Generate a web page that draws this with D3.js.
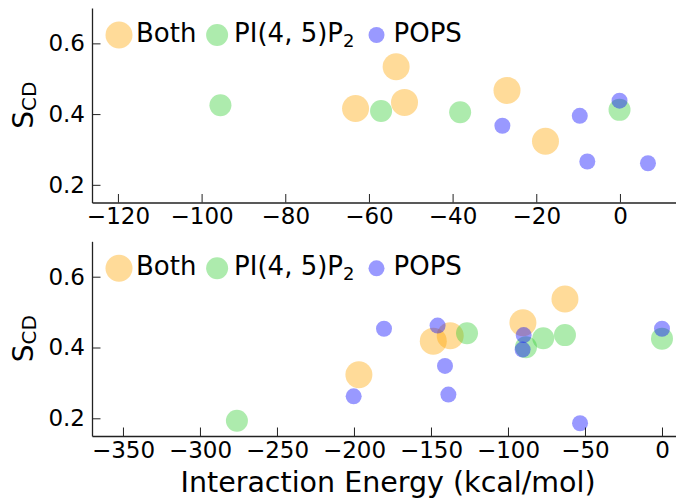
<!DOCTYPE html>
<html>
<head>
<meta charset="utf-8">
<script src="https://cdn.jsdelivr.net/npm/d3@7"></script>
<style>
  body { margin: 0; background: #fff; }
  svg { display: block; font-family: "DejaVu Sans", sans-serif; }
</style>
</head>
<body>
<script>
// series order in each panel
var seriesNames = ["Both", "PI", "POPS"];
var seriesColors = ["orange", "limegreen", "blue"];
var seriesRadius = [13.5, 11, 8];

// top panel
var topBothX = [-63.2, -53.5, -51.5, -27.0, -17.8];
var topBothY = [0.416, 0.534, 0.433, 0.467, 0.323];
var topPipX = [-95.5, -57.1, -38.2, -0.1];
var topPipY = [0.425, 0.409, 0.405, 0.412];
var topPopsX = [-28.1, -9.6, -7.8, -0.1, 6.7];
var topPopsY = [0.367, 0.395, 0.266, 0.438, 0.261];
var topXTicks = [-120, -100, -80, -60, -40, -20, 0];

// bottom panel
var botBothX = [-196.8, -148.5, -137.5, -90.3, -63.0];
var botBothY = [0.323, 0.418, 0.433, 0.470, 0.537];
var botPipX = [-276, -126.6, -88.3, -77.1, -63.0, 0];
var botPipY = [0.193, 0.440, 0.401, 0.426, 0.435, 0.425];
var botPopsX = [-200.2, -180.5, -145.7, -140.9, -138.7, -89.8, -90.5, -53.2, 0];
var botPopsY = [0.262, 0.453, 0.462, 0.348, 0.267, 0.435, 0.394, 0.186, 0.453];
var botXTicks = [-350, -300, -250, -200, -150, -100, -50, 0];

var yTicks = [0.2, 0.4, 0.6];

var w = 676, h = 499;
var svg = d3.select("body").append("svg").attr("width", w).attr("height", h);

var left = 92, right = 676;

function zip(xs, ys) {
  return xs.map(function(x, i) { return {x: x, y: ys[i]}; });
}

function panel(top, bottom, xDomain, xTicks, series) {
  var g = svg.append("g");
  var x = d3.scaleLinear().domain(xDomain).range([left, right]);
  var y = d3.scaleLinear().domain([0.15, 0.70]).range([bottom, top]);

  // points, drawn series by series
  series.forEach(function(pts, i) {
    g.append("g").selectAll("circle").data(pts).enter()
      .append("circle")
      .attr("cx", function(d) { return x(d.x); })
      .attr("cy", function(d) { return y(d.y); })
      .attr("r", seriesRadius[i])
      .attr("fill", seriesColors[i])
      .attr("fill-opacity", 0.4);
  });

  var xAxis = g.append("g").attr("transform", "translate(0," + bottom + ")")
    .call(d3.axisBottom(x).tickValues(xTicks).tickFormat(d3.format("d"))
      .tickSizeInner(-8.5).tickSizeOuter(0).tickPadding(5.5));
  var yAxis = g.append("g").attr("transform", "translate(" + left + ",0)")
    .call(d3.axisLeft(y).tickValues(yTicks).tickFormat(d3.format(".1f"))
      .tickSizeInner(-8.5).tickSizeOuter(0).tickPadding(7));

  [xAxis, yAxis].forEach(function(a) {
    a.select(".domain").attr("stroke", "#222").attr("stroke-width", 1.3);
    a.selectAll(".tick line").attr("stroke", "#222").attr("stroke-width", 1);
    a.selectAll(".tick text").attr("fill", "#000")
      .style("font-family", "DejaVu Sans").style("font-size", "23px");
  });

  // y label S_CD
  var cy = (top + bottom) / 2;
  var lab = g.append("text")
    .attr("transform", "translate(33," + cy + ") rotate(-90)")
    .attr("text-anchor", "middle")
    .attr("fill", "#000")
    .style("font-size", "28px");
  lab.append("tspan").text("S");
  lab.append("tspan").attr("dy", 3).style("font-size", "20px").text("CD");

  // legend, no frame, one row
  var leg = g.append("g").attr("transform", "translate(0," + (top + 27) + ")");
  var cx = 119;
  var gaps = [20.7, 22, 0];
  series.forEach(function(pts, i) {
    leg.append("circle").attr("cx", cx).attr("cy", 0).attr("r", seriesRadius[i])
      .attr("fill", seriesColors[i]).attr("fill-opacity", 0.4);
    var t = leg.append("text").attr("x", cx + 17).attr("y", 7)
      .attr("fill", "#000").style("font-size", "26px");
    if (seriesNames[i] === "PI") {
      t.append("tspan").text("PI(4, 5)P");
      t.append("tspan").attr("dy", 5).style("font-size", "18px").text("2");
    } else {
      t.text(seriesNames[i]);
    }
    cx = cx + 17 + t.node().getComputedTextLength() + gaps[i];
  });
  return g;
}

panel(8, 202.5, [-126.2, 13.4], topXTicks,
  [zip(topBothX, topBothY), zip(topPipX, topPipY), zip(topPopsX, topPopsY)]);
panel(241.3, 436, [-370.1, 9.1], botXTicks,
  [zip(botBothX, botBothY), zip(botPipX, botPipY), zip(botPopsX, botPopsY)]);

svg.append("text")
  .attr("x", 388).attr("y", 492)
  .attr("text-anchor", "middle")
  .attr("fill", "#000")
  .style("font-size", "28.5px")
  .text("Interaction Energy (kcal/mol)");
</script>
</body>
</html>
